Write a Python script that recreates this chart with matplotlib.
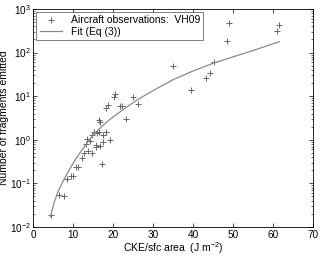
import matplotlib
matplotlib.use('Agg')
import matplotlib.pyplot as plt
import numpy as np

plt.rcParams['font.family'] = ['Liberation Sans', 'DejaVu Sans']
plt.rcParams['mathtext.fontset'] = 'custom'
plt.rcParams['mathtext.rm'] = 'Liberation Sans'
plt.rcParams['mathtext.it'] = 'Liberation Sans:italic'

# aircraft observations (VH09)
obs_x = [4.4, 6.4, 7.7, 8.5, 9.4, 9.9, 10.6, 11.1, 12.2, 12.7, 13.1, 13.5, 13.8,
         14.1, 14.7, 14.6, 15.3, 15.6, 15.8, 15.9, 16.4, 16.6, 16.4, 16.8, 17.1,
         17.5, 17.5, 18.1, 18.3, 18.7, 19.3, 20.1, 20.4, 21.6, 22.2, 23.1, 25.0,
         26.3, 34.9, 39.5, 43.2, 44.2, 45.2, 48.4, 48.9, 61.0, 61.5]
obs_y = [0.019, 0.053, 0.05, 0.128, 0.147, 0.15, 0.236, 0.24, 0.38, 0.49, 0.8, 1.04, 0.56,
         0.92, 0.5, 1.28, 1.5, 0.67, 0.77, 1.44, 2.8, 2.5, 1.47, 0.71, 0.28,
         0.89, 1.26, 1.5, 5.3, 6.4, 1.0, 9.7, 11.5, 5.9, 5.9, 3.0, 9.8,
         6.6, 49, 13.7, 25.7, 34.6, 62, 181, 466, 308, 435]

# fit (Eq (3))
fit_x = [4.3, 5.2, 6.2, 7.6, 9.2, 10.6, 12.1, 14.2, 15.4, 17.2, 19.2, 21.6, 24.2,
         26.7, 30.0, 35.0, 40.0, 45.2, 50.0, 55.0, 61.5]
fit_y = [0.017, 0.036, 0.065, 0.12, 0.22, 0.36, 0.57, 1.05, 1.42, 2.05, 2.95, 4.3, 6.4,
         9.0, 13.5, 24, 38, 58, 80, 112, 178]

fig = plt.figure(figsize=(3.2, 2.57), dpi=100)
ax = fig.add_axes([0.104, 0.117, 0.875, 0.848])

ax.plot(obs_x, obs_y, '+', color='#666666', ms=4, mew=0.7, label='Aircraft observations:  VH09')
ax.plot(fit_x, fit_y, '-', color='#8a8a8a', lw=0.9, label='Fit (Eq (3))')

ax.set_yscale('log')
ax.set_xlim(0, 70)
ax.set_ylim(1e-2, 1e3)
ax.set_xticks(np.arange(0, 71, 10))
ax.tick_params(which='both', direction='in', top=True, right=True, labelsize=7.2, pad=2)
ax.tick_params(which='major', length=3, width=0.5)
ax.tick_params(which='minor', length=1.5, width=0.4)
for s in ax.spines.values():
    s.set_linewidth(0.6)

ax.set_xlabel('CKE/sfc area  (J m$^{-2}$)', fontsize=7.5, labelpad=0)
ax.set_ylabel('Number of fragments emitted', fontsize=7.5)
ax.yaxis.set_label_coords(-0.085, 0.5)

leg = ax.legend(loc='upper left', fontsize=7.5, frameon=True, fancybox=False,
                edgecolor='#444444', handlelength=2.2, borderpad=0.3,
                labelspacing=0.15, borderaxespad=0.3)
leg.get_frame().set_linewidth(0.6)

fig.savefig('out.png', dpi=100)
